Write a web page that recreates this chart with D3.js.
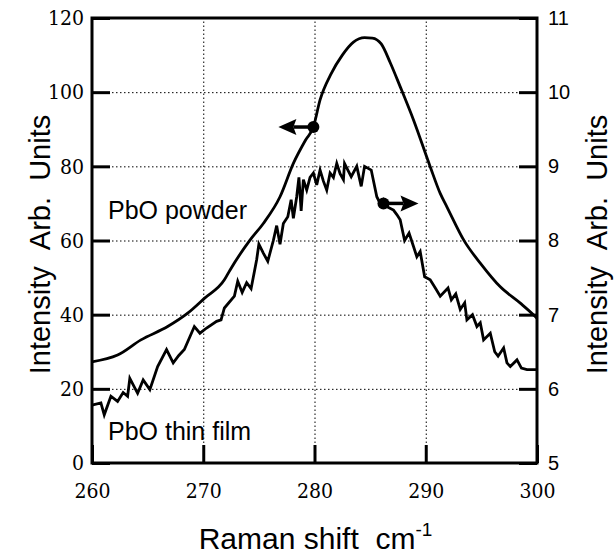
<!DOCTYPE html>
<html>
<head>
<meta charset="utf-8">
<script src="https://cdn.jsdelivr.net/npm/d3@7"></script>
<style>
  body { margin: 0; background: #fff; }
</style>
</head>
<body>
<div id="chart"></div>
<script>
// tick values
const xTicks = [260, 270, 280, 290, 300];
const leftTicks = [0, 20, 40, 60, 80, 100, 120];
const rightTicks = [5, 6, 7, 8, 9, 10, 11];

// PbO powder (left axis)
const powderX = [260, 262.3, 264.4, 266.8, 268.6, 270.1, 271.9, 272.4, 274.2, 275.4, 276.9, 278.1, 279.2, 279.9, 280.5,
  281.5, 282.5, 283.5, 284.5, 285.2, 286, 286.8, 287.7, 288.9, 290.4, 291.3, 291.9, 293.5, 294.9, 296.7, 298.5, 299.7, 300];
const powderY = [27.3, 29.1, 33.2, 36.8, 40.4, 44.4, 49.4, 52, 60.1, 64.6, 71.8, 80.8, 87.1, 90.6, 97.9,
  105, 110, 113.5, 114.7, 114.6, 113, 108, 101.5, 92.5, 79.9, 72.7, 69.1, 59.7, 53.9, 47.5, 43.1, 39.9, 39];

// PbO thin film (right axis)
const filmX = [260, 260.8, 261.1, 261.7, 262.3, 262.8, 263.2, 263.4, 264.1, 264.6, 265.2, 265.9, 266.7, 267.3, 267.8, 268.3, 269.2,
  269.7, 270.3, 271.2, 271.6, 271.9, 272.8, 273.1, 273.5, 273.9, 274.3, 274.8, 275.0, 275.4, 275.8, 276.3, 276.6, 276.9, 277.2,
  277.6, 277.9, 278.1, 278.4, 278.6, 278.8, 279.0, 279.3, 279.6, 279.9, 280.2, 280.5, 280.8, 281.1, 281.4, 281.7, 282.0,
  282.3, 282.6, 282.7, 283.0, 283.3, 283.8, 284.2, 284.5, 285.1, 285.6, 285.9, 286.2, 286.6, 287.1,
  287.4, 287.7, 288.1, 288.5, 288.9, 289.2, 289.5, 289.9, 290.4, 290.9, 291.3, 292.0, 292.3, 292.7, 293.1, 293.5, 293.7, 294.2,
  294.6, 294.9, 295.2, 295.8, 296.2, 296.5, 297.0, 297.3, 297.6, 298.2, 298.6, 299.1, 300];
const filmY = [5.78, 5.81, 5.65, 5.9, 5.83, 5.95, 5.9, 6.14, 5.94, 6.12, 5.99, 6.3, 6.53, 6.35, 6.45, 6.53, 6.84,
  6.75, 6.82, 6.91, 6.93, 7.09, 7.25, 7.45, 7.3, 7.43, 7.35, 7.74, 7.95, 7.83, 7.72, 8.0, 8.2, 7.95, 8.23,
  8.32, 8.55, 8.3, 8.59, 8.85, 8.4, 8.82, 8.68, 8.85, 8.91, 8.75, 8.95, 8.8, 8.68, 8.91, 8.85, 9.04,
  8.9, 8.82, 9.04, 8.95, 8.86, 9.0, 8.73, 9.0, 8.95, 8.59, 8.5, 8.55, 8.45, 8.41,
  8.35, 8.28, 8.0, 8.1, 7.92, 7.78, 7.85, 7.51, 7.47, 7.35, 7.25, 7.36, 7.2, 7.28, 7.07, 7.16, 6.93, 7.0,
  6.84, 6.89, 6.66, 6.75, 6.5, 6.44, 6.55, 6.35, 6.3, 6.39, 6.28, 6.26, 6.26];

const W = 616, H = 554;
const margin = { top: 18, right: 79, bottom: 91, left: 92 };
const width = W - margin.left - margin.right;
const height = H - margin.top - margin.bottom;

const serif = "'DejaVu Serif Condensed', 'DejaVu Serif', serif";
const sans = "'Liberation Sans', Arial, sans-serif";

const svg = d3.select('#chart').append('svg')
  .attr('width', W).attr('height', H)
  .append('g')
  .attr('transform', `translate(${margin.left},${margin.top})`);

const x = d3.scaleLinear().domain([260, 300]).range([0, width]);
const yL = d3.scaleLinear().domain([0, 120]).range([height, 0]);
const yR = d3.scaleLinear().domain([5, 11]).range([height, 0]);

// dotted grid
function styleGrid(g) {
  g.select('.domain').remove();
  g.selectAll('line').style('stroke', '#000').style('stroke-width', 1).style('stroke-dasharray', '1.5,2.5');
}
svg.append('g')
  .attr('transform', `translate(0,${height})`)
  .call(d3.axisBottom(x).tickValues(xTicks.slice(1, -1)).tickSize(-height).tickFormat(''))
  .call(styleGrid);
svg.append('g')
  .call(d3.axisLeft(yL).tickValues(leftTicks.slice(1, -1)).tickSize(-width).tickFormat(''))
  .call(styleGrid);

// axes with inward ticks
function styleAxis(g, font, size) {
  g.attr('font-family', font).attr('font-size', size);
  g.select('.domain').remove();
  g.selectAll('line').style('stroke', '#000').style('stroke-width', 3);
  g.selectAll('text').style('font-family', font).style('font-size', size + 'px').style('fill', '#000');
}
svg.append('g')
  .attr('transform', `translate(0,${height})`)
  .call(d3.axisBottom(x).tickValues(xTicks).tickSize(-18).tickPadding(0).tickFormat(d3.format('d')))
  .call(styleAxis, serif, 21)
  .selectAll('text').attr('y', 20).attr('dy', '0.71em');
svg.append('g')
  .call(d3.axisLeft(yL).tickValues(leftTicks).tickSize(-18).tickPadding(8).tickFormat(d3.format('d')))
  .call(styleAxis, serif, 21);
svg.append('g')
  .attr('transform', `translate(${width},0)`)
  .call(d3.axisRight(yR).tickValues(rightTicks).tickSize(-18).tickPadding(11).tickFormat(d3.format('d')))
  .call(styleAxis, sans, 20);

// frame
svg.append('rect')
  .attr('x', 0).attr('y', 0).attr('width', width).attr('height', height)
  .attr('fill', 'none').attr('stroke', '#000').attr('stroke-width', 3);

// curves
const powderData = powderX.map((v, i) => ({ x: v, y: powderY[i] }));
const filmData = filmX.map((v, i) => ({ x: v, y: filmY[i] }));

svg.append('path').datum(powderData)
  .attr('fill', 'none').attr('stroke', '#000').attr('stroke-width', 2.8)
  .attr('d', d3.line().x(d => x(d.x)).y(d => yL(d.y)).curve(d3.curveMonotoneX));
svg.append('path').datum(filmData)
  .attr('fill', 'none').attr('stroke', '#000').attr('stroke-width', 2.8).attr('stroke-linejoin', 'miter')
  .attr('d', d3.line().x(d => x(d.x)).y(d => yR(d.y)));

// markers with arrows
function marker(cx, cy, dir) {
  svg.append('circle').attr('cx', cx).attr('cy', cy).attr('r', 6).attr('fill', '#000');
  const tip = cx + dir * 35, base = cx + dir * 17;
  svg.append('line').attr('x1', cx).attr('y1', cy).attr('x2', base + dir * 3).attr('y2', cy)
    .attr('stroke', '#000').attr('stroke-width', 3.5);
  svg.append('path')
    .attr('d', `M${tip},${cy} L${base},${cy - 8} L${base + dir * 3},${cy} L${base},${cy + 8} Z`)
    .attr('fill', '#000');
}
marker(x(279.9), yL(90.6), -1);
marker(x(286.2), yR(8.5), 1);

// curve labels
svg.append('text').attr('x', 16).attr('y', 201)
  .style('font-family', sans).style('font-size', '25px').text('PbO powder');
svg.append('text').attr('x', 16).attr('y', 422)
  .style('font-family', sans).style('font-size', '25px').text('PbO thin film');

// axis titles
svg.append('text')
  .attr('transform', `translate(${-42},${height / 2 + 4}) rotate(-90)`)
  .attr('text-anchor', 'middle')
  .style('font-family', sans).style('font-size', '29px')
  .text('Intensity\u00a0\u00a0Arb.\u00a0\u00a0Units');
svg.append('text')
  .attr('transform', `translate(${width + 70},${height / 2 + 4}) rotate(-90)`)
  .attr('text-anchor', 'middle')
  .style('font-family', sans).style('font-size', '29px')
  .text('Intensity\u00a0\u00a0Arb.\u00a0\u00a0Units');

const xt = svg.append('text')
  .attr('x', width / 2 + 1).attr('y', height + 86)
  .attr('text-anchor', 'middle')
  .style('font-family', sans).style('font-size', '30px');
xt.append('tspan').text('Raman shift\u00a0\u00a0cm');
xt.append('tspan').attr('dy', -13).style('font-size', '19px').text('-1');
</script>
</body>
</html>
